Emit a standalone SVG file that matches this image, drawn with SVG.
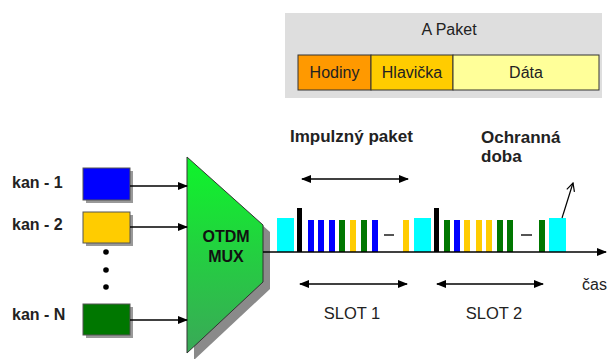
<svg xmlns="http://www.w3.org/2000/svg" width="608" height="359" viewBox="0 0 608 359">
<defs>
<linearGradient id="g" x1="0" y1="0" x2="0" y2="1">
<stop offset="0" stop-color="#0ef52a"/>
<stop offset="1" stop-color="#3aa858"/>
</linearGradient>
<marker id="ah" viewBox="0 0 10 10" refX="9" refY="5" markerWidth="10" markerHeight="10" markerUnits="userSpaceOnUse" orient="auto-start-reverse">
<path d="M0,1 L10,5 L0,9 z" fill="#000"/>
</marker>
<marker id="ao" viewBox="0 0 10 10" refX="9" refY="5" markerWidth="10" markerHeight="10" markerUnits="userSpaceOnUse" orient="auto">
<path d="M1,1 L9,5 L1,9" fill="none" stroke="#000" stroke-width="1.2"/>
</marker>
</defs>
<style>
text{font-family:"Liberation Sans",Arial,sans-serif;fill:#222}
.b{font-weight:bold}
.c{text-anchor:middle}
.ln{stroke:#000;stroke-width:1.6;fill:none}
.sh{fill:#999}
</style>
<rect width="608" height="359" fill="#fff"/>

<g id="paket">
<rect x="285" y="13" width="317" height="85" fill="#dedede"/>
<text x="449" y="35" class="c" font-size="16">A Paket</text>
<rect x="298" y="55" width="73" height="35" fill="#ff9900" stroke="#333" stroke-width="1"/>
<rect x="371" y="55" width="82" height="35" fill="#ffcc00" stroke="#333" stroke-width="1"/>
<rect x="453" y="55" width="146" height="35" fill="#ffff99" stroke="#333" stroke-width="1"/>
<text x="334.5" y="78" class="c" font-size="16">Hodiny</text>
<text x="412" y="78" class="c" font-size="16">Hlavička</text>
<text x="526" y="78" class="c" font-size="16">Dáta</text>
</g>

<g id="kan1">
<rect x="86" y="171" width="47" height="32" class="sh"/>
<rect x="83" y="168" width="47" height="32" fill="#0000ff" stroke="#555" stroke-width="1"/>
<text x="12" y="188" class="b" font-size="16">kan - 1</text>
</g>
<g id="kan2">
<rect x="86" y="215" width="47" height="31" class="sh"/>
<rect x="83" y="212" width="47" height="31" fill="#ffcc00" stroke="#555" stroke-width="1"/>
<text x="12" y="230" class="b" font-size="16">kan - 2</text>
</g>
<g id="dots">
<circle cx="106" cy="252" r="2.8" fill="#000"/>
<circle cx="106" cy="270" r="2.8" fill="#000"/>
<circle cx="106" cy="287" r="2.8" fill="#000"/>
</g>
<g id="kanN">
<rect x="86" y="307" width="47" height="31" class="sh"/>
<rect x="83" y="304" width="47" height="31" fill="#007700" stroke="#555" stroke-width="1"/>
<text x="12" y="320" class="b" font-size="16">kan - N</text>
</g>

<g id="mux">
<polygon points="194,164 270,232 270,289 194,360" fill="#8a8a8a"/>
<polygon points="187,157 263,225 263,282 187,353" fill="url(#g)" stroke="#333" stroke-width="1"/>
<text x="226" y="242" class="b c" font-size="16" style="fill:#111">OTDM</text>
<text x="226" y="262" class="b c" font-size="16" style="fill:#111">MUX</text>
</g>

<g id="pulses">
<rect x="277" y="218" width="17" height="34" fill="#00ffff"/>
<rect x="297" y="208" width="5" height="44" fill="#000"/>
<rect x="308" y="220" width="6" height="32" fill="#0000ff"/>
<rect x="318" y="220" width="6" height="32" fill="#0000ff"/>
<rect x="329" y="220" width="6" height="32" fill="#0000ff"/>
<rect x="339" y="220" width="6" height="32" fill="#007700"/>
<rect x="350" y="220" width="6" height="32" fill="#ffcc00"/>
<rect x="361" y="220" width="6" height="32" fill="#007700"/>
<rect x="372" y="220" width="6" height="32" fill="#0000ff"/>
<rect x="384" y="234" width="10" height="2" fill="#555"/>
<rect x="403" y="220" width="6" height="32" fill="#ffcc00"/>
<rect x="414" y="218" width="17" height="34" fill="#00ffff"/>
<rect x="434" y="208" width="5" height="44" fill="#000"/>
<rect x="444" y="220" width="6" height="32" fill="#007700"/>
<rect x="454" y="220" width="6" height="32" fill="#0000ff"/>
<rect x="464" y="220" width="6" height="32" fill="#ffcc00"/>
<rect x="476" y="220" width="6" height="32" fill="#ffcc00"/>
<rect x="486" y="220" width="6" height="32" fill="#ffcc00"/>
<rect x="497" y="220" width="6" height="32" fill="#007700"/>
<rect x="507" y="220" width="6" height="32" fill="#007700"/>
<rect x="521" y="234" width="11" height="2" fill="#555"/>
<rect x="539" y="220" width="6" height="32" fill="#007700"/>
<rect x="549" y="218" width="17" height="34" fill="#00ffff"/>
</g>

<g id="connectors">
<line x1="130" y1="186" x2="187" y2="186" class="ln" marker-end="url(#ah)"/>
<line x1="130" y1="227" x2="187" y2="227" class="ln" marker-end="url(#ah)"/>
<line x1="130" y1="320" x2="187" y2="320" class="ln" marker-end="url(#ah)"/>
<line x1="263" y1="252" x2="606" y2="252" class="ln" stroke-width="2" marker-end="url(#ah)"/>
<line x1="302" y1="179" x2="408" y2="179" class="ln" marker-start="url(#ah)" marker-end="url(#ah)"/>
<line x1="300" y1="284" x2="407" y2="284" class="ln" marker-start="url(#ah)" marker-end="url(#ah)"/>
<line x1="437" y1="284" x2="543" y2="284" class="ln" marker-start="url(#ah)" marker-end="url(#ah)"/>
<line x1="562" y1="218" x2="573" y2="183" stroke="#000" stroke-width="1.2" marker-end="url(#ao)"/>
</g>

<g id="labels">
<text x="290" y="142" class="b" font-size="17">Impulzný paket</text>
<text x="481" y="143" class="b" font-size="17">Ochranná</text>
<text x="481" y="162" class="b" font-size="17">doba</text>
<text x="352" y="319" class="c" font-size="16.5">SLOT 1</text>
<text x="494" y="319" class="c" font-size="16.5">SLOT 2</text>
<text x="582" y="290" font-size="16">čas</text>
</g>
</svg>
